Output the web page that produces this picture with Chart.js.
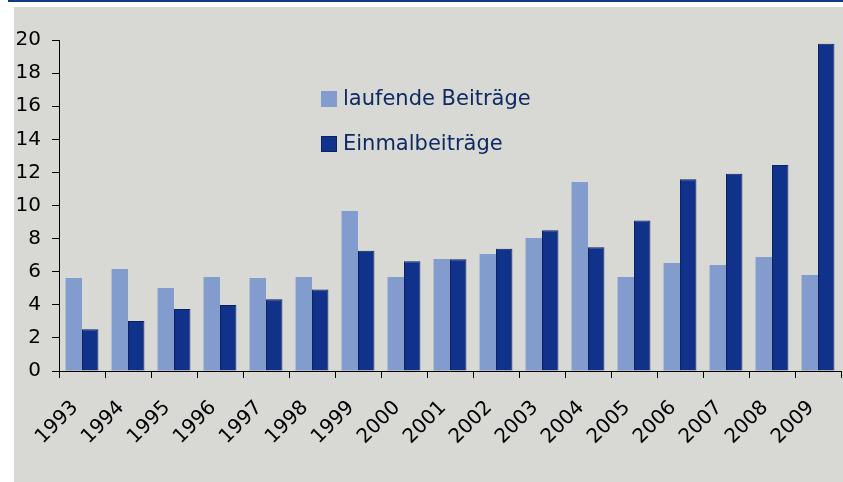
<!DOCTYPE html>
<html>
<head>
<meta charset="utf-8">
<script src="https://cdn.jsdelivr.net/npm/chart.js@4.4.0/dist/chart.umd.min.js"></script>
<style>
body { margin: 0; background: #fff; }
#wrap { position: relative; width: 843px; height: 482px; overflow: hidden; }
#topline { position: absolute; left: 8px; top: 0; width: 835px; height: 2px; background: #0d3a8c; }
#panel { position: absolute; left: 14px; top: 7px; right: 0; bottom: 0; background: #d8d8d4; }
canvas { position: absolute; left: 0; top: 0; }
</style>
</head>
<body>
<div id="wrap">
    <div id="topline"></div>
    <div id="panel"></div>
    <canvas id="chart" width="843" height="482"></canvas>
</div>
<script>
// Daten
const jahre = ['1993', '1994', '1995', '1996', '1997', '1998', '1999', '2000', '2001',
               '2002', '2003', '2004', '2005', '2006', '2007', '2008', '2009'];
const laufendeBeitraege = [5.62, 6.16, 5.01, 5.68, 5.62, 5.68, 9.67, 5.68, 6.77,
                           7.07, 8.04, 11.42, 5.68, 6.53, 6.40, 6.89, 5.80];
const einmalbeitraege = [2.52, 3.02, 3.74, 3.99, 4.33, 4.93, 7.27, 6.63, 6.75,
                         7.39, 8.50, 7.47, 9.10, 11.58, 11.92, 12.45, 19.78];
const yTicks = [0, 2, 4, 6, 8, 10, 12, 14, 16, 18, 20];

const schrift = { family: 'DejaVu Sans', size: 20 };

// Legende innerhalb der Zeichenfläche
const legendePlugin = {
    id: 'legende',
    afterDraw(chart) {
        const ctx = chart.ctx;
        ctx.save();
        ctx.font = '21px "DejaVu Sans"';
        ctx.textBaseline = 'middle';
        chart.data.datasets.forEach((ds, i) => {
            const y = 99 + i * 45;
            ctx.fillStyle = ds.backgroundColor;
            ctx.fillRect(321, y - 8, 16, 16);
            if (ds.borderWidth) {
                ctx.strokeStyle = ds.borderColor;
                ctx.lineWidth = 1;
                ctx.strokeRect(321.5, y - 7.5, 15, 15);
            }
            ctx.fillStyle = '#0f2a63';
            ctx.fillText(ds.label, 343, y + 1);
        });
        ctx.restore();
    }
};

const ctx = document.getElementById('chart').getContext('2d');
new Chart(ctx, {
    type: 'bar',
    data: {
        labels: jahre,
        datasets: [{
            label: 'laufende Beiträge',
            data: laufendeBeitraege,
            backgroundColor: '#829dcd',
            borderWidth: 0
        }, {
            label: 'Einmalbeiträge',
            data: einmalbeitraege,
            backgroundColor: '#10328a',
            borderColor: '#0a2260',
            borderWidth: 1,
            borderSkipped: 'bottom'
        }]
    },
    options: {
        responsive: false,
        animation: false,
        layout: { padding: { top: 40, right: 2, left: 0, bottom: 0 } },
        datasets: {
            bar: { categoryPercentage: 0.714, barPercentage: 1.0 }
        },
        plugins: {
            legend: { display: false },
            tooltip: { enabled: false }
        },
        scales: {
            x: {
                grid: { offset: true, drawOnChartArea: false, tickLength: 7, color: '#000' },
                border: { color: '#000', width: 1 },
                ticks: {
                    autoSkip: false,
                    minRotation: 45,
                    maxRotation: 45,
                    font: schrift,
                    color: '#000',
                    padding: 18,
                    labelOffset: -7
                },
                afterFit(scale) {
                    scale.height = 111;
                    scale.paddingLeft = 0;
                    scale.paddingRight = 0;
                }
            },
            y: {
                min: 0,
                max: 20,
                afterBuildTicks(scale) { scale.ticks = yTicks.map(v => ({ value: v })); },
                grid: { drawOnChartArea: false, tickLength: 7, color: '#000' },
                border: { color: '#000', width: 1 },
                ticks: { font: schrift, color: '#000', padding: 11 },
                afterFit(scale) {
                    scale.width = 59;
                    scale.paddingTop = 0;
                    scale.paddingBottom = 0;
                }
            }
        }
    },
    plugins: [legendePlugin]
});
</script>
</body>
</html>
